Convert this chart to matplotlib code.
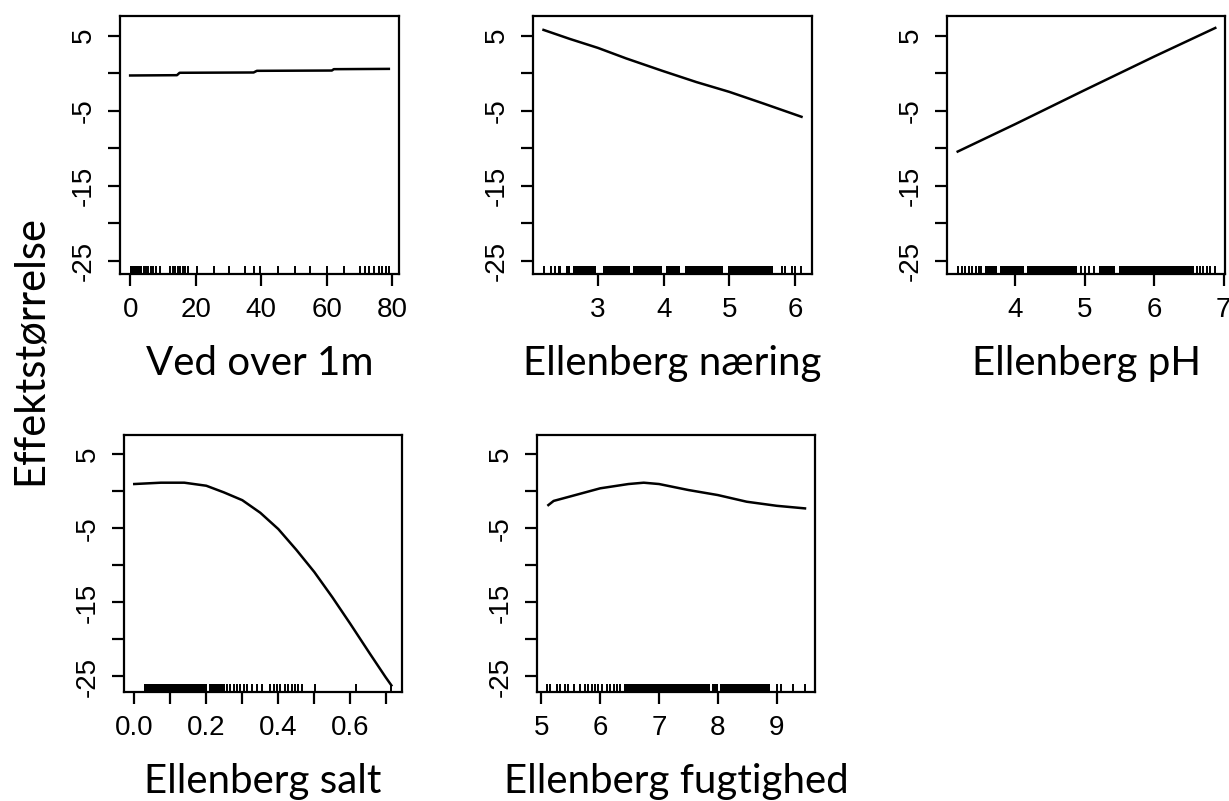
# ------------------ GAM partial effects - Ellenberg variables ------------------
import matplotlib
matplotlib.use("Agg")
import matplotlib.pyplot as plt
from matplotlib import font_manager

# ------------------ 1. DATA ------------------
labels = ["Ved over 1m", "Ellenberg næring", "Ellenberg pH",
          "Ellenberg salt", "Ellenberg fugtighed"]

# smooth curves (x, effect)
ved_x = [0.0, 14.3, 15.1, 37.7, 38.7, 61.6, 62.2, 79.0]
ved_y = [-0.32, -0.28, 0.04, 0.08, 0.30, 0.34, 0.52, 0.56]

naering_x = [2.17, 2.57, 3.0, 3.43, 3.98, 4.5, 5.0, 5.52, 6.10]
naering_y = [5.75, 4.55, 3.35, 1.95, 0.3, -1.2, -2.5, -4.05, -5.82]

ph_x = [3.17, 4.0, 4.98, 6.0, 6.88]
ph_y = [-10.45, -6.79, -2.35, 2.2, 6.01]

salt_x = [0.0, 0.074, 0.139, 0.2, 0.249, 0.3, 0.35, 0.4, 0.45, 0.5,
          0.55, 0.6, 0.654, 0.698, 0.714]
salt_y = [0.98, 1.16, 1.16, 0.75, -0.15, -1.2, -2.9, -5.1, -7.9, -10.9,
          -14.3, -17.9, -21.9, -25.1, -26.2]

fugt_x = [5.12, 5.21, 5.49, 6.0, 6.48, 6.74, 7.0, 7.5, 8.0, 8.49, 9.0, 9.48]
fugt_y = [-1.86, -1.3, -0.7, 0.4, 0.98, 1.16, 0.98, 0.17, -0.51, -1.41, -1.96, -2.31]

# rug: single ticks and dense (solid) stretches
ved_rug = [4.1, 4.9, 5.6, 6.3, 7.1, 7.9, 9.2, 12.2, 13.0, 13.8, 14.5, 15.3, 16.0,
           16.8, 17.8, 20.4, 25.5, 30.1, 35.2, 37.7, 39.7, 45.3, 50.4, 55.0, 60.1,
           65.2, 70.3, 71.8, 72.9, 74.4, 75.9, 76.9, 78.0, 79.0]
ved_blocks = [(0.0, 3.6)]

naering_rug = [2.17, 2.29, 2.35, 5.80, 5.85, 5.95, 6.0, 6.10]
naering_blocks = [(2.39, 2.44), (2.52, 2.57), (2.62, 2.97), (3.08, 3.48),
                  (3.53, 3.97), (4.04, 4.25), (4.32, 4.91), (4.98, 5.67)]

ph_rug = [3.17, 3.23, 3.28, 3.33, 3.38, 3.43, 3.47, 3.50, 4.94, 5.01, 5.06, 5.13,
          6.62, 6.66, 6.71, 6.76, 6.81, 6.88]
ph_blocks = [(3.57, 3.74), (3.78, 4.12), (4.17, 4.89), (5.2, 5.44), (5.49, 6.57)]

salt_rug = [0.258, 0.267, 0.277, 0.286, 0.295, 0.304, 0.313, 0.327, 0.341, 0.355,
            0.378, 0.387, 0.396, 0.406, 0.419, 0.428, 0.437, 0.447, 0.456, 0.465,
            0.502, 0.617, 0.714]
salt_blocks = [(0.028, 0.203), (0.207, 0.253)]

fugt_rug = [5.10, 5.15, 5.27, 5.32, 5.41, 5.46, 5.55, 5.66, 5.75, 5.80, 5.86, 5.92,
            5.97, 6.03, 6.11, 6.17, 6.23, 6.28, 6.34, 9.0, 9.08, 9.28, 9.48]
fugt_blocks = [(6.40, 7.87), (7.90, 8.01), (8.04, 8.89)]

# x ticks / labels per panel
xticks = [[0, 20, 40, 60, 80], [3, 4, 5, 6], [4, 5, 6, 7],
          [0.0, 0.1, 0.2, 0.3, 0.4, 0.5, 0.6, 0.7], [5, 6, 7, 8, 9]]
xticklabels = [["0", "20", "40", "60", "80"], ["3", "4", "5", "6"], ["4", "5", "6", "7"],
               ["0.0", "", "0.2", "", "0.4", "", "0.6", ""], ["5", "6", "7", "8", "9"]]
yticks = [5, 0, -5, -10, -15, -20, -25]
yticklabels = ["5", "", "-5", "", "-15", "", "-25"]

# ------------------ 2. FONTS ------------------
installed = {f.name for f in font_manager.fontManager.ttflist}
tick_font = ["Liberation Sans Narrow", "Liberation Sans", "DejaVu Sans"]
tick_font = [f for f in tick_font if f in installed] or ["DejaVu Sans"]
label_font = ["Lato", "DejaVu Sans"]

# ------------------ 3. LAYOUT (pixel boxes: left, top, right, bottom) ------------------
W, H = 1229, 801
boxes = [(120, 16, 399, 274), (533, 16, 812, 274), (947, 16, 1225, 274),
         (124, 435, 402, 692), (537, 435, 815, 692)]
xlims = [(-3.1, 82.1), (2.01, 6.26), (3.016, 7.02), (-0.0285, 0.7435), (4.927, 9.65)]
ylims = [(-26.75, 7.6), (-26.75, 7.6), (-26.75, 7.6),
         (-27.1, 7.6), (-27.1, 7.6)]

curves = [(ved_x, ved_y), (naering_x, naering_y), (ph_x, ph_y),
          (salt_x, salt_y), (fugt_x, fugt_y)]
rugs = [ved_rug, naering_rug, ph_rug, salt_rug, fugt_rug]
blocks = [ved_blocks, naering_blocks, ph_blocks, salt_blocks, fugt_blocks]

fig = plt.figure(figsize=(W / 100, H / 100), dpi=100)

for i in range(5):
    l, t, r, b = boxes[i]
    ax = fig.add_axes([l / W, 1 - b / H, (r - l) / W, (b - t) / H])

    ax.plot(curves[i][0], curves[i][1], color="black", lw=1.8)

    # rug along the bottom
    ax.vlines(rugs[i], 0, 0.03, transform=ax.get_xaxis_transform(),
              color="black", lw=1.4)
    for x0, x1 in blocks[i]:
        ax.axvspan(x0, x1, ymin=0, ymax=0.03, color="black", lw=0)

    ax.set_xlim(xlims[i])
    ax.set_ylim(ylims[i])
    ax.set_xticks(xticks[i])
    ax.set_xticklabels(xticklabels[i], fontfamily=tick_font, fontsize=20)
    ax.set_yticks(yticks)
    ax.set_yticklabels(yticklabels, fontfamily=tick_font, fontsize=20,
                       rotation=90, va="center")
    ax.tick_params(length=8.5, width=1.6, pad=8, color="black")

    for s in ax.spines.values():
        s.set_linewidth(1.6)

    ax.set_xlabel(labels[i], fontfamily=label_font, fontsize=29, labelpad=16)

fig.text(30 / W, 1 - 350 / H, "Effektstørrelse", rotation=90,
         ha="center", va="center", fontfamily=label_font, fontsize=30)

fig.savefig("out.png", dpi=100)
